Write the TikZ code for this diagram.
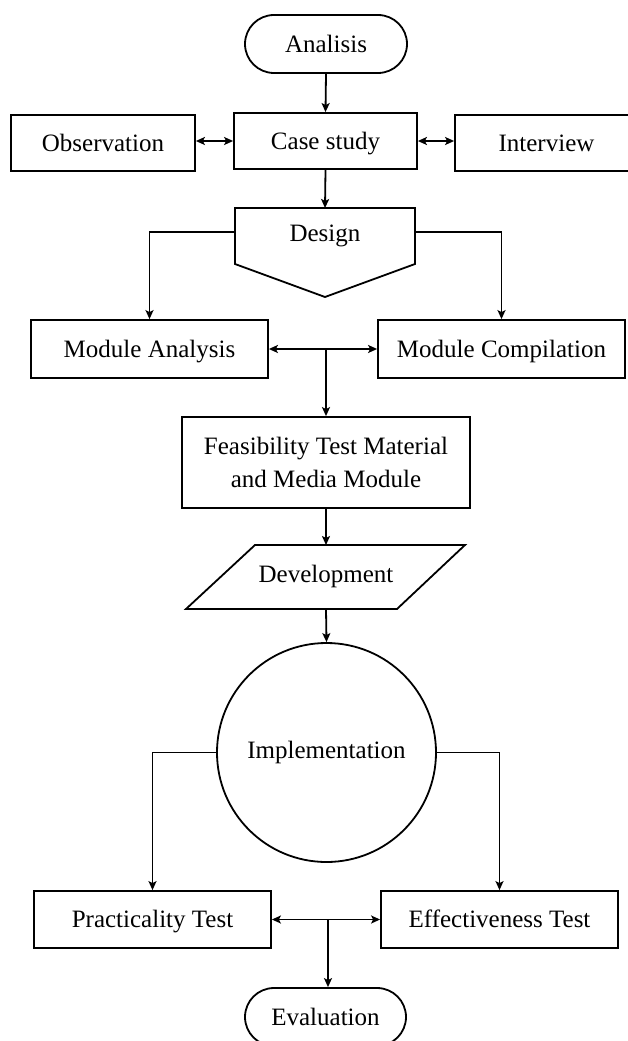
\documentclass[tikz,border=0pt]{standalone}
\usepackage{fontspec}
\setmainfont{Liberation Serif}
\usetikzlibrary{arrows.meta,calc}
\begin{document}
\begin{tikzpicture}[x=1pt,y=-1pt,
  every node/.style={font=\fontsize{25}{33}\selectfont},
  capc/.style={text height=17pt, text depth=0.5pt},
  thickline/.style={line width=1.8pt},
  arr/.style={line width=1.8pt, -{Stealth[length=9pt,width=8pt,inset=2pt]}},
  darr/.style={line width=1.8pt, {Stealth[length=9pt,width=8pt,inset=2pt]}-{Stealth[length=9pt,width=8pt,inset=2pt]}},
  box/.style={draw, line width=1.8pt, rectangle, inner sep=0pt, align=center},
  term/.style={draw, line width=1.8pt, rectangle, rounded corners=29pt, inner sep=0pt, minimum width=162pt, minimum height=58pt, capc}]
\useasboundingbox (0,0) rectangle (628,1041);
\fill[white] (0,0) rectangle (628,1041);

% Analisis
\node[term] (ana) at (326,44) {Analisis};
% Row 2
\node[box, capc, minimum width=183pt, minimum height=56pt] (case) at (325.5,141) {Case study};
\node[box, capc, minimum width=184pt, minimum height=56pt] (obs) at (103,143) {Observation};
\node[box, capc, minimum width=183pt, minimum height=56pt] (int) at (546.5,143) {Interview};

% Design (off-page connector shape)
\draw[thickline, line join=miter] (235,208) -- (415,208) -- (415,264) -- (325,297) -- (235,264) -- cycle;
\node[capc] (des) at (325,233) {Design};
\coordinate (destop) at (325,208);
\coordinate (desl) at (235,232);
\coordinate (desr) at (415,232);

% Modules
\node[box, capc, minimum width=237pt, minimum height=58pt] (ma) at (149.5,349) {Module Analysis};
\node[box, capc, minimum width=247pt, minimum height=58pt] (mc) at (501.5,349) {Module Compilation};
\coordinate (j1) at (326,349);

% Feasibility
\node[box, minimum width=288pt, minimum height=91pt] (feas) at (326,462.5) {Feasibility Test Material\\and Media Module};

% Development (parallelogram)
\draw[thickline, line join=miter] (255,545) -- (465,545) -- (397,609) -- (186,609) -- cycle;
\node[capc] (dev) at (326,574) {Development};
\coordinate (devtop) at (326,545);
\coordinate (devbot) at (326,609);

% Implementation
\node[draw, line width=1.8pt, circle, minimum size=219pt, inner sep=0pt] (imp) at (326.5,752.5) {};
\node[capc] (impt) at (326.5,750) {Implementation};

% Tests
\node[box, capc, minimum width=237pt, minimum height=57pt] (prac) at (152.5,919.5) {Practicality Test};
\node[box, capc, minimum width=237pt, minimum height=57pt] (eff) at (499.5,919.5) {Effectiveness Test};
\coordinate (j2) at (328,919.5);

% Evaluation
\node[term, minimum width=161pt] (eval) at (325.5,1017) {Evaluation};

% Connectors
\draw[arr] (ana.south) -- (case.north);
\draw[darr] (obs.east |- case.west) -- (case.west);
\draw[darr] (case.east) -- (int.west |- case.east);
\draw[arr] (case.south) -- (destop);
\draw[arr] (desl) -| (ma.north);
\draw[arr] (desr) -| (mc.north);
\draw[darr] (ma.east) -- (mc.west);
\draw[arr] (j1) -- (feas.north);
\draw[arr] (feas.south) -- (devtop);
\draw[arr] (devbot) -- (imp.north);
\draw[arr] (imp.west) -| (prac.north);
\draw[arr] (imp.east) -| (eff.north);
\draw[darr] (prac.east) -- (eff.west);
\draw[arr] (j2) -- (j2 |- eval.north);
\end{tikzpicture}
\end{document}
